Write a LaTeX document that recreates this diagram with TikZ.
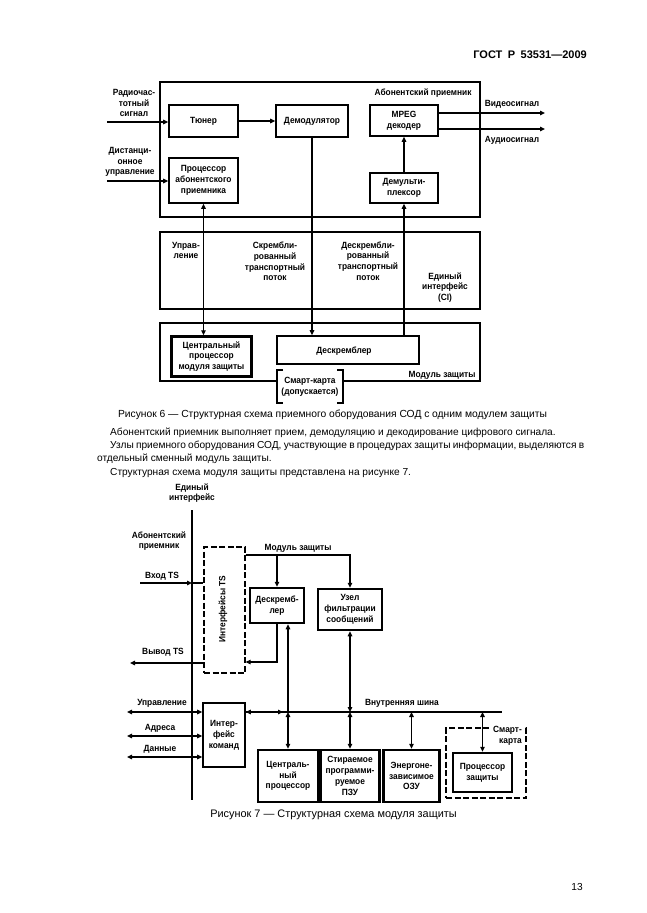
\documentclass[tikz,border=0pt]{standalone}
\usepackage{fontspec}
\setmainfont{Liberation Sans}
\newfontfamily\lbl[FakeStretch=0.93]{Liberation Sans}
\usetikzlibrary{arrows.meta}
\begin{document}
\begin{tikzpicture}[x=1pt,y=-1pt,
  lf/.style={font=\lbl\bfseries\fontsize{9}{10.8}\selectfont},
  blk/.style={draw, line width=1.6pt, inner sep=0pt, align=center, lf},
  tblk/.style={blk, line width=2.5pt},
  dblk/.style={draw, line width=1.2pt, dash pattern=on 6pt off 2.5pt, inner sep=0pt, align=center, lf},
  lab/.style={inner sep=0pt, align=center, lf},
  ln/.style={line width=1.5pt},
  tk/.style={line width=2.5pt},
  arr/.style={-{Triangle[length=5pt,width=4.5pt]}},
  rarr/.style={{Triangle[length=5pt,width=4.5pt]}-},
  darr/.style={{Triangle[length=5pt,width=4.5pt]}-{Triangle[length=5pt,width=4.5pt]}},
  body/.style={inner sep=0pt, font=\fontsize{10.15}{12}\selectfont},
  capt/.style={inner sep=0pt, font=\fontsize{10.3}{12}\selectfont},
]
\fill[white] (0,0) rectangle (646,913);
\useasboundingbox (0,0) rectangle (646,913);

% header
\node[body, anchor=east, font=\bfseries\fontsize{11}{13}\selectfont] (hdr) at (587,55) {ГОСТ\enspace Р\enspace 53531—2009};

% ================= Figure 6 =================
\node[blk, minimum width=320pt, minimum height=135pt] (recv) at (320,149.5) {};
\node[lab] (recvl) at (423,93) {Абонентский приемник};
\node[blk, minimum width=69pt, minimum height=32pt] (tuner) at (203.5,121) {Тюнер};
\node[blk, minimum width=72pt, minimum height=32pt] (demod) at (312,121) {Демодулятор};
\node[blk, minimum width=68pt, minimum height=31pt] (mpeg) at (404,120.5) {MPEG\\декодер};
\node[blk, minimum width=68pt, minimum height=30pt] (demux) at (404,188) {Демульти-\\плексор};
\node[blk, minimum width=69pt, minimum height=45pt] (proc) at (203.5,180.5) {Процессор\\абонентского\\приемника};

\node[blk, minimum width=320pt, minimum height=77pt] (ci) at (320,270.5) {};
\node[lab] (cil1) at (186,250.5) {Управ-\\ление};
\node[lab] (cil2) at (275,261.5) {Скрембли-\\рованный\\транспортный\\поток};
\node[lab] (cil3) at (368,261) {Дескрембли-\\рованный\\транспортный\\поток};
\node[lab] (cil4) at (445,287.5) {Единый\\интерфейс\\(CI)};

% module box with gap for smart card
\draw[ln] (277,381) -- (160,381) -- (160,323) -- (480,323) -- (480,381) -- (343,381);
\node[lab] (modl) at (442,375) {Модуль защиты};
\node[tblk, minimum width=80pt, minimum height=40pt] (cpu6) at (211.5,356.5) {Центральный\\процессор\\модуля защиты};
\node[blk, minimum width=142pt, minimum height=28pt] (descr6) at (348,350) {};
\node[lab] (descr6l) at (344,351) {Дескремблер};
\node[lab] (smart6) at (310,387) {Смарт-карта\\(допускается)};
\draw[ln] (283,370) -- (277,370) -- (277,403) -- (283,403);
\draw[ln] (337,370) -- (343,370) -- (343,403) -- (337,403);

% inputs
\node[lab] (rfl) at (134,103) {Радиочас-\\тотный\\сигнал};
\coordinate (rfin) at (107,122);
\draw[ln, arr] (rfin) -- (tuner.west |- rfin);
\node[lab] (rcl) at (130,162) {Дистанци-\\онное\\управление};
\coordinate (rcin) at (107,181);
\draw[ln, arr] (rcin) -- (proc.west |- rcin);
\draw[ln, arr] (tuner.east) -- (demod.west);
% outputs
\coordinate (vout) at (545,113);
\coordinate (aout) at (545,129);
\draw[ln, arr] (mpeg.east |- vout) -- (vout);
\draw[ln, arr] (mpeg.east |- aout) -- (aout);
\node[lab] (vl) at (512,104) {Видеосигнал};
\node[lab] (al) at (512,140) {Аудиосигнал};
% vertical flows
\draw[tk, arr] (demux.north) -- (mpeg.south);
\draw[tk, arr] (demux.south |- descr6.north) -- (demux.south);
\draw[ln, arr] (demod.south) -- (demod.south |- descr6.north);
\draw[ln, darr] (proc.south) -- (proc.south |- cpu6.north);

\node[capt] (cap6) at (332.5,415) {\makebox[429pt][s]{Рисунок 6 — Структурная схема приемного оборудования СОД с одним модулем защиты}};

% body text
\node[body, anchor=west] (p1) at (110,433) {Абонентский приемник выполняет прием, демодуляцию и декодирование цифрового сигнала.};
\node[body, anchor=west] (p2) at (110,446) {\makebox[474pt][s]{Узлы приемного оборудования СОД, участвующие в процедурах защиты информации, выделяются в}};
\node[body, anchor=west] (p3) at (97,459) {отдельный сменный модуль защиты.};
\node[body, anchor=west] (p4) at (110,473) {Структурная схема модуля защиты представлена на рисунке 7.};

% ================= Figure 7 =================
\node[lab] (uil) at (192,493) {Единый\\интерфейс};
\coordinate (uiT) at (192,510);
\coordinate (uiB) at (192,800);
\draw[ln] (uiT) -- (uiB);
\node[lab] (abl) at (159,541) {Абонентский\\приемник};
\node[lab] (mzl) at (298,548) {Модуль защиты};

\node[dblk, minimum width=41pt, minimum height=126pt] (tsif) at (224.5,610) {};
\node[lab, rotate=90] (tsifl) at (223,609) {Интерфейсы TS};
\node[tblk, minimum width=54pt, minimum height=35pt] (descr7) at (277,605.5) {Дескремб-\\лер};
\node[tblk, minimum width=64pt, minimum height=41pt] (filter) at (350,609.5) {Узел\\фильтрации\\сообщений};

\draw[line width=2.3pt, arr] (tsif.east |- 0,555) -| (filter.north);
\draw[ln, arr] (descr7.north |- 0,555) -- (descr7.north);

\node[lab] (inl) at (162,576) {Вход TS};
\coordinate (inL) at (140,583);
\draw[ln, arr] (inL) -- (uiT |- inL);
\draw[ln] (uiT |- inL) -- (tsif.west |- inL);
\node[lab] (outl) at (163,652) {Вывод TS};
\coordinate (outL) at (130,663);
\draw[ln, arr] (tsif.west |- outL) -- (outL);
\draw[line width=1.1pt, arr] (descr7.south) -- (descr7.south |- 0,662) -- (tsif.east |- 0,662);

% command interface and bus
\node[blk, minimum width=42pt, minimum height=64pt] (cmdif) at (224,735) {Интер-\\фейс\\команд};
\coordinate (busL) at (245,712);
\coordinate (busR) at (502,712);
\draw[line width=1.8pt] (cmdif.east |- busL) -- (busR);
\draw[line width=1.8pt, darr] (cmdif.east |- busL) -- (283,712);
\node[lab] (busl) at (402,703) {Внутренняя шина};

\node[lab] (ctll) at (162,703) {Управление};
\coordinate (ctlL) at (127,712);
\draw[line width=1.8pt, darr] (ctlL) -- (cmdif.west |- ctlL);
\node[lab] (adrl) at (160,728) {Адреса};
\coordinate (adrL) at (127,736);
\draw[tk, darr] (adrL) -- (cmdif.west |- adrL);
\node[lab] (datl) at (160,749) {Данные};
\coordinate (datL) at (127,757);
\draw[tk, darr] (datL) -- (cmdif.west |- datL);

\node[tblk, minimum width=60pt, minimum height=52pt] (cpu7) at (288,776) {Централь-\\ный\\процессор};
\node[tblk, minimum width=59pt, minimum height=52pt] (eeprom) at (350,776) {Стираемое\\программи-\\руемое\\ПЗУ};
\node[tblk, minimum width=56pt, minimum height=52pt] (nvram) at (411.5,776) {Энергоне-\\зависимое\\ОЗУ};
\node[dblk, minimum width=80pt, minimum height=70pt] (smart7) at (486,763) {};
\node[lab, align=right, anchor=east, fill=white, inner sep=1pt] (smart7l) at (523,736) {Смарт-\\карта};
\node[tblk, minimum width=59pt, minimum height=39pt] (prot) at (482.5,772.5) {Процессор\\защиты};

\draw[tk, rarr] ([xshift=11pt]descr7.south) -- ([xshift=11pt]descr7.south |- busL);
\draw[ln, darr] (cpu7.north |- busL) -- (cpu7.north);
\draw[tk, darr] (filter.south) -- (filter.south |- busL);
\draw[ln, darr] (filter.south |- busL) -- (eeprom.north);
\draw[ln, darr] (nvram.north |- busL) -- (nvram.north);
\draw[ln, darr] (prot.north |- busL) -- (prot.north);

\node[capt, font=\fontsize{10.9}{12}\selectfont] (cap7) at (333.5,815) {Рисунок 7 — Структурная схема модуля защиты};
\node[body] (pg) at (577,887) {13};
\end{tikzpicture}
\end{document}
